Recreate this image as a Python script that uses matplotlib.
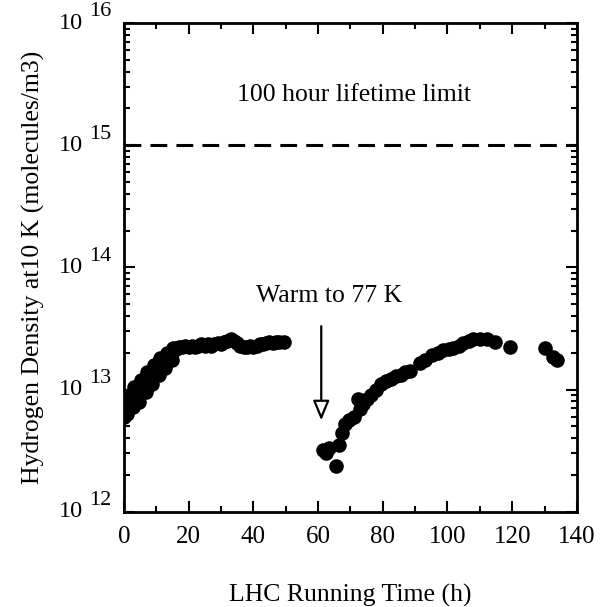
import numpy as np
import matplotlib
matplotlib.use("Agg")
import matplotlib.pyplot as plt
from matplotlib.ticker import LogLocator, MultipleLocator, NullFormatter
import matplotlib.transforms as mtransforms

plt.rcParams['font.family'] = ['Liberation Serif', 'DejaVu Serif']

# data
# first run, 0 - 50 h  (density in units of 1e13 molecules/m3)
t_run1 = [0, 0.3, 0.6, 1, 1.3, 1.7, 2, 2.5, 3, 3.5, 4, 4.5, 5, 5.5, 6, 6.5,
          7, 7.5, 8, 8.5, 9, 9.5, 10, 10.5, 11, 11.5, 12, 12.5, 13, 13.5,
          14, 14.5, 15, 15.5, 16, 16.5, 17, 18, 19, 20, 21, 22, 23, 24, 25,
          26, 27, 28, 29, 30, 31, 32, 33, 34, 35, 36, 37, 38, 39, 40, 41,
          42, 43, 44, 45, 46, 47, 48, 49.6]
n_run1 = [0.60, 0.68, 0.79, 0.71, 0.85, 0.76, 0.89, 0.83, 0.93, 0.91, 1.00,
          0.95, 1.05, 1.10, 1.12, 1.17, 1.20, 1.26, 1.29, 1.32, 1.38, 1.41,
          1.48, 1.51, 1.58, 1.62, 1.66, 1.74, 1.78, 1.86, 1.91, 2.00, 2.04,
          2.09, 2.14, 2.19, 2.24, 2.24, 2.29, 2.24, 2.29, 2.24, 2.29, 2.34,
          2.29, 2.34, 2.29, 2.34, 2.40, 2.34, 2.45, 2.51, 2.57, 2.51, 2.40,
          2.29, 2.24, 2.24, 2.29, 2.24, 2.29, 2.34, 2.34, 2.40, 2.45, 2.40,
          2.45, 2.45, 2.45]
# scattered points around the rising part of the first run (1e13)
t_run1_extra = [1.0, 2.8, 4.8, 6.8, 8.8, 10.8, 12.8, 14.8,
                3.2, 5.2, 7.2, 9.2, 11.2, 13.2, 15.3]
n_run1_extra = [0.63, 0.72, 0.79, 0.95, 1.12, 1.32, 1.51, 1.74,
                1.05, 1.20, 1.40, 1.60, 1.80, 2.00, 2.20]

# second run after warm-up (units of 1e12)
t_run2 = [61.6, 62.5, 63.5, 65.7, 66.5, 67.5, 68.3, 69.5, 71.0, 72.2, 73.0,
          74.0, 75.0, 76.5, 78.0, 79.5, 81.0, 82.5, 84.0, 85.5, 87.0, 88.4,
          91.5, 93.0, 95.1, 97.0, 98.7, 100.5, 101.8, 103.5, 104.9, 106.5,
          108.0, 110.0, 112.1, 114.6, 119.3, 130.1, 132.7, 133.7]
n_run2 = [3.2, 3.0, 3.3, 2.35, 3.5, 4.4, 5.2, 5.6, 6.0, 8.3, 6.9, 7.6, 8.3,
          9.1, 10.0, 11.0, 11.7, 12.3, 12.9, 13.2, 13.8, 14.1, 16.6, 17.4,
          19.1, 20.0, 20.9, 21.4, 21.9, 22.9, 24.0, 25.1, 25.7, 25.7, 25.7,
          24.5, 22.4, 21.9, 18.6, 17.4]

limit_100h = 1e15
warm_time = 61
decades = [12, 13, 14, 15, 16]

t = np.array(t_run1 + t_run1_extra + t_run2)
n = np.concatenate([np.array(n_run1 + n_run1_extra) * 1e13,
                    np.array(n_run2) * 1e12])

fig = plt.figure(figsize=(6.01, 6.07), dpi=100)
ax = fig.add_axes([0.206, 0.157, 0.754, 0.805])

ax.plot(t, n, 'o', color='black', markersize=10.5, markeredgewidth=0)
ax.axhline(limit_100h, color='black', linestyle=(0, (5.5, 3)), linewidth=2.2)

ax.set_yscale('log')
ax.set_xlim(0, 140)
ax.set_ylim(1e12, 1e16)

ax.xaxis.set_major_locator(MultipleLocator(20))
ax.xaxis.set_minor_locator(MultipleLocator(10))
ax.yaxis.set_major_locator(LogLocator(base=10, numticks=10))
ax.yaxis.set_minor_locator(LogLocator(base=10, subs=np.arange(2, 10), numticks=20))
ax.yaxis.set_minor_formatter(NullFormatter())
ax.set_yticklabels([])

ax.tick_params(which='both', direction='in', top=True, right=True,
               width=1.5, labelsize=18)
ax.tick_params(which='major', length=8)
ax.tick_params(which='minor', length=4.5)
ax.tick_params(axis='x', pad=10)
for s in ax.spines.values():
    s.set_linewidth(2)

# y tick labels drawn as "10" with a big superscript
trans = mtransforms.blended_transform_factory(ax.transAxes, ax.transData)
for d in decades:
    ax.text(-0.09, 10.0 ** d, '10', transform=trans, ha='right', va='center',
            fontsize=17.5)
    ax.annotate(str(d), xy=(-0.076, 10.0 ** d), xycoords=trans,
                xytext=(0, 8), textcoords='offset points',
                ha='left', va='center', fontsize=16)

ax.set_xlabel('LHC Running Time (h)', fontsize=18.5, labelpad=26)
ax.set_ylabel('Hydrogen Density at10 K (molecules/m3)', fontsize=18.5,
              labelpad=53)

ax.text(71, 2.6e15, '100 hour lifetime limit', ha='center', va='center',
        fontsize=18.5)
ax.text(63.5, 5.8e13, 'Warm to 77 K', ha='center', va='center', fontsize=18.5)
ax.annotate('', xy=(warm_time, 5.6e12), xytext=(warm_time, 3.3e13),
            arrowprops=dict(arrowstyle='-|>,head_length=1.2,head_width=0.5',
                            facecolor='white', edgecolor='black', lw=1.6,
                            shrinkA=0, shrinkB=0))

fig.savefig('out.png', dpi=100)
